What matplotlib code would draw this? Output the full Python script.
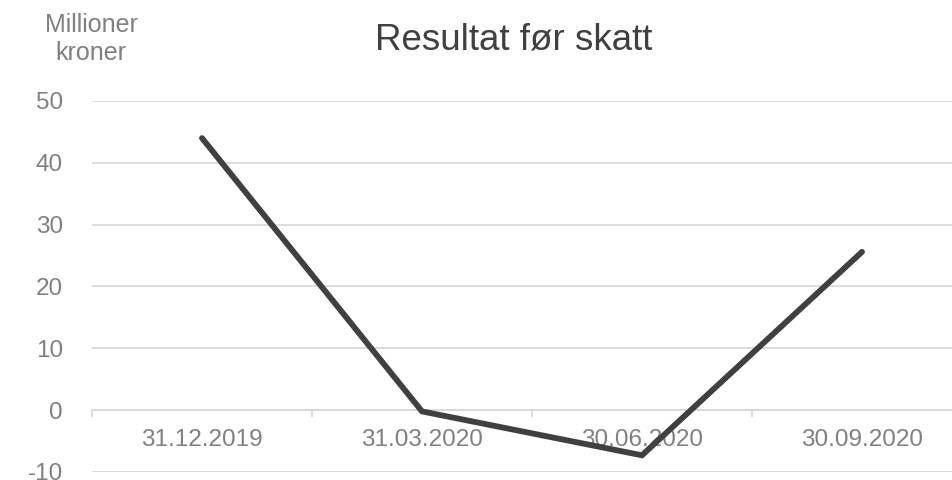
import matplotlib.pyplot as plt

plt.rcParams["font.family"] = ["Liberation Sans", "DejaVu Sans"]

# data
datoer = ["31.12.2019", "31.03.2020", "30.06.2020", "30.09.2020"]
resultat = [44.0, -0.2, -7.3, 25.6]
y_ticks = [-10, 0, 10, 20, 30, 40, 50]

GRA = "#808080"
GRID = "#d9d9d9"
LINJE = "#404040"

fig = plt.figure(figsize=(9.53, 4.8), dpi=100)
ax = fig.add_axes([92 / 953, 1 - 472 / 480, 880 / 953, 371 / 480])

x = list(range(len(datoer)))
ax.plot(x, resultat, color=LINJE, linewidth=4.2, solid_capstyle="round",
        solid_joinstyle="miter", zorder=3)

ax.set_xlim(-0.5, len(datoer) - 0.5)
ax.set_ylim(-10, 50)

ax.set_yticks(y_ticks)
ax.set_yticklabels([str(v) for v in y_ticks])
ax.yaxis.grid(True, color=GRID, linewidth=1.3)
ax.tick_params(axis="y", length=0, pad=21, labelsize=17.5, labelcolor=GRA)

# kategoriakse ved 0
ax.spines["bottom"].set_position(("data", 0))
ax.spines["bottom"].set_color(GRID)
ax.spines["bottom"].set_linewidth(1.3)
for s in ["top", "right", "left"]:
    ax.spines[s].set_visible(False)

ax.set_xticks([i - 0.5 for i in range(len(datoer) + 1)])
ax.set_xticklabels([])
ax.set_xticks(x, minor=True)
ax.set_xticklabels(datoer, minor=True)
ax.tick_params(axis="x", which="major", length=5, width=1.3, color=GRID)
ax.tick_params(axis="x", which="minor", length=0, pad=13.5, labelsize=17.5,
               labelcolor=GRA)

fig.text(514 / 953, 1 - 40 / 480, "Resultat før skatt", ha="center",
         va="center", fontsize=26.5, color=LINJE)
fig.text(91 / 953, 1 - 39 / 480, "Millioner\nkroner", ha="center",
         va="center", fontsize=18, color=GRA, linespacing=1.2)

fig.savefig("out.png", dpi=100)
